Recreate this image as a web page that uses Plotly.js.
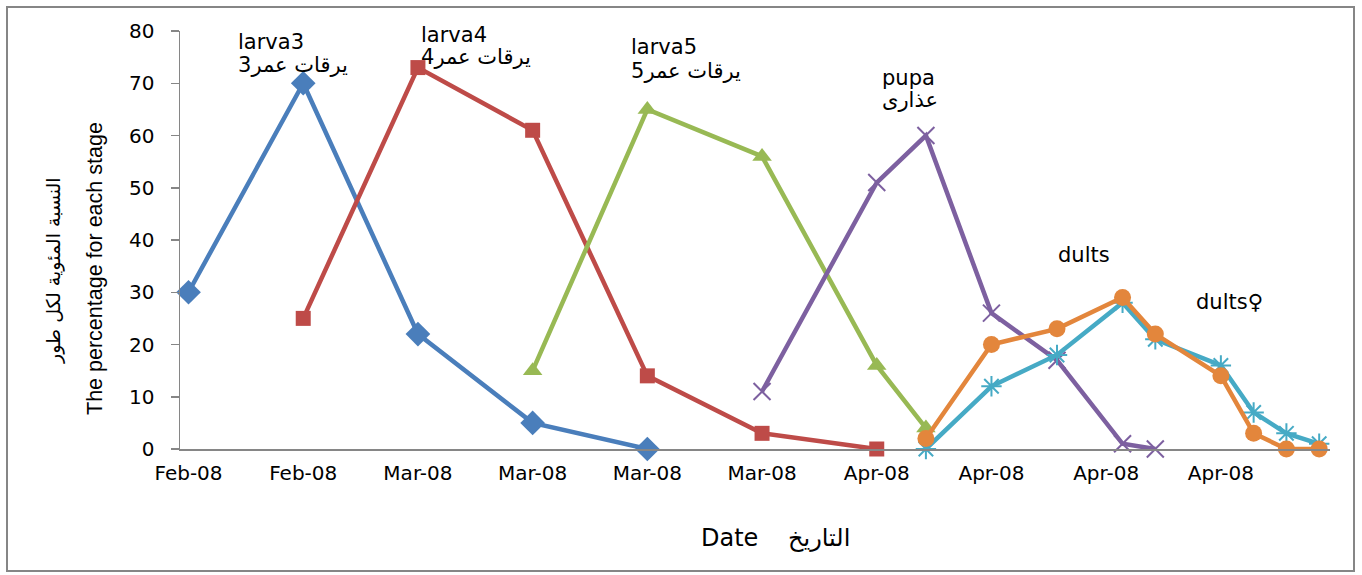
<!DOCTYPE html>
<html>
<head>
<meta charset="utf-8">
<script src="https://cdn.plot.ly/plotly-3.0.1.min.js"></script>
<style>
  html, body { margin: 0; padding: 0; background: #ffffff; }
  #chart { width: 1362px; height: 575px; }
</style>
</head>
<body>
<div id="chart"></div>
<script>
// Sampling days, counted from the first sampling date (weekly axis ticks)
const tickDays = [0, 7, 14, 21, 28, 35, 42, 49, 56, 63];
const tickLabels = ['Feb-08', 'Feb-08', 'Mar-08', 'Mar-08', 'Mar-08', 'Mar-08',
                    'Apr-08', 'Apr-08', 'Apr-08', 'Apr-08'];

// Percentage of individuals in each stage
const larva3Days = [0, 7, 14, 21, 28];
const larva3Pct  = [30, 70, 22, 5, 0];

const larva4Days = [7, 14, 21, 28, 35, 42];
const larva4Pct  = [25, 73, 61, 14, 3, 0];

const larva5Days = [21, 28, 35, 42, 45];
const larva5Pct  = [15, 65, 56, 16, 4];

const pupaDays = [35, 42, 45, 49, 53, 57, 59];
const pupaPct  = [11, 51, 60, 26, 17, 1, 0];

const adultDays    = [45, 49, 53, 57, 59, 63, 65, 67, 69];
const adultMalePct = [0, 12, 18, 28, 21, 16, 7, 3, 1];
const adultFemPct  = [2, 20, 23, 29, 22, 14, 3, 0, 0];

// Plot-area geometry (pixels) used to place free text
const L = 180, R = 32, T = 31, B = 126, W = 1362, H = 575;
const PW = W - L - R, PH = H - T - B;
const px = x => (x - L) / PW;
const py = y => (H - B - y) / PH;

const axisGrey = '#868686';
const txtFont = { family: 'DejaVu Sans, Verdana, sans-serif', size: 21, color: '#000000' };
const arFont  = { family: 'DejaVu Sans, Arial, sans-serif', size: 21, color: '#000000' };
const titleFont = { family: 'DejaVu Sans, Verdana, sans-serif', size: 24, color: '#000000' };
const titleArFont = { family: 'DejaVu Sans, Arial, sans-serif', size: 24, color: '#000000' };

function series(name, xs, ys, color, marker) {
  return {
    type: 'scatter', mode: 'lines+markers', name: name,
    x: xs, y: ys, cliponaxis: false, showlegend: false,
    line: { color: color, width: 4.5 },
    marker: Object.assign({ color: color }, marker),
    hoverinfo: 'x+y'
  };
}

const traces = [
  series('larva3', larva3Days, larva3Pct, '#4A7EBB', { symbol: 'diamond', size: 19 }),
  series('larva4', larva4Days, larva4Pct, '#BE4B48', { symbol: 'square', size: 15 }),
  series('larva5', larva5Days, larva5Pct, '#98B954', { symbol: 'triangle-up', size: 17 }),
  series('pupa', pupaDays, pupaPct, '#7D60A0',
         { symbol: 'x-thin-open', size: 17, line: { color: '#7D60A0', width: 2 } }),
  series('adults', adultDays, adultMalePct, '#46AAC5',
         { symbol: 'asterisk-open', size: 17, line: { color: '#46AAC5', width: 2 } }),
  series('adults ♀', adultDays, adultFemPct, '#E3863C', { symbol: 'circle', size: 17 })
];

function note(text, x, y, font, anchor) {
  return {
    text: text, xref: 'paper', yref: 'paper', x: px(x), y: py(y),
    xanchor: anchor || 'left', yanchor: 'middle', showarrow: false,
    font: font, align: 'left'
  };
}

const annotations = [
  note('larva3', 236, 42, txtFont),
  note('يرقات عمر3', 236, 65, arFont),
  note('larva4', 419, 35, txtFont),
  note('يرقات عمر4', 419, 57, arFont),
  note('larva5', 629, 47, txtFont),
  note('يرقات عمر5', 629, 71, arFont),
  note('pupa', 880, 78, txtFont),
  note('عذارى', 880, 100, arFont),
  note('dults', 1056, 255, txtFont),
  note('dults♀', 1194, 302, txtFont),
  note('Date', 699, 538, titleFont),
  note('التاريخ', 786, 538, titleArFont),
  {
    text: 'The percentage for each stage', xref: 'paper', yref: 'paper',
    x: px(95), y: py(269), xanchor: 'center', yanchor: 'middle', textangle: -90,
    showarrow: false,
    font: { family: 'Liberation Sans, Arial, sans-serif', size: 21.5, color: '#000000' }
  },
  {
    text: 'النسبة المئوية لكل طور', xref: 'paper', yref: 'paper',
    x: px(53), y: py(270), xanchor: 'center', yanchor: 'middle', textangle: -90,
    showarrow: false,
    font: { family: 'DejaVu Sans, Arial, sans-serif', size: 19, color: '#000000' }
  }
];

const layout = {
  width: W, height: H,
  margin: { l: L, r: R, t: T, b: B, pad: 0 },
  paper_bgcolor: '#ffffff', plot_bgcolor: '#ffffff',
  showlegend: false,
  xaxis: {
    range: [-0.52, 69.66], tickmode: 'array', tickvals: tickDays, ticktext: tickLabels,
    showgrid: false, zeroline: false, showline: true, linecolor: axisGrey, linewidth: 1.5,
    ticks: '', ticklabelstandoff: 5,
    tickfont: { family: 'DejaVu Sans, Verdana, sans-serif', size: 20, color: '#000000' }
  },
  yaxis: {
    range: [0, 80], dtick: 10, tick0: 0,
    showgrid: false, zeroline: false, showline: true, linecolor: axisGrey, linewidth: 1.5,
    ticks: 'outside', ticklen: 8, tickwidth: 1.5, tickcolor: axisGrey, ticklabelstandoff: 12,
    tickfont: { family: 'DejaVu Sans, Verdana, sans-serif', size: 20, color: '#000000' }
  },
  annotations: annotations,
  shapes: [{
    type: 'rect', xref: 'paper', yref: 'paper',
    x0: px(7), x1: px(1354), y0: py(7), y1: py(571),
    line: { color: axisGrey, width: 2 }, fillcolor: 'rgba(0,0,0,0)', layer: 'below'
  }]
};

Plotly.newPlot('chart', traces, layout, { displayModeBar: false, staticPlot: true });
</script>
</body>
</html>
